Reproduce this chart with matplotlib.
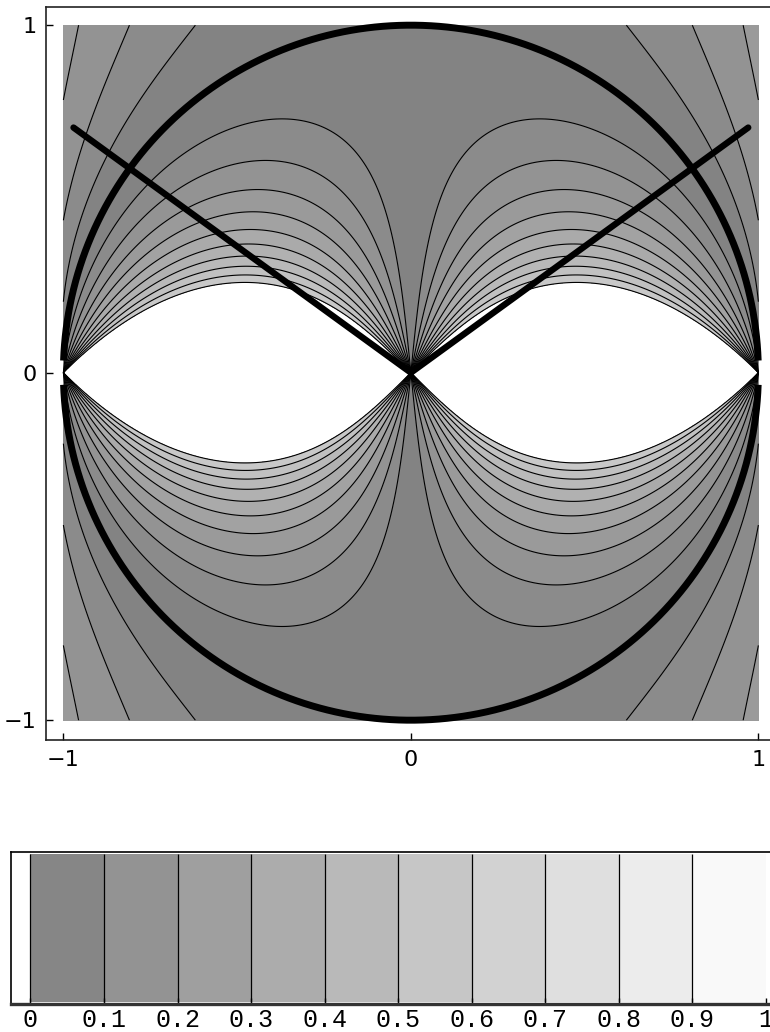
import numpy as np
import matplotlib.pyplot as plt

# contour levels of the field and their tick labels
levels = [0.0, 0.1, 0.2, 0.3, 0.4, 0.5, 0.6, 0.7, 0.8, 0.9, 1.0]
line_levels = [0.1, 0.2, 0.3, 0.4, 0.5, 0.6, 0.7, 0.8, 0.9, 1.0]
axis_ticks = [-1, 0, 1]
cb_labels = ['0', '0.1', '0.2', '0.3', '0.4', '0.5', '0.6', '0.7', '0.8', '0.9', '1']

# cone lines through the origin (degrees from the x axis, length)
cone_angles = [36.0, 144.0]
cone_length = 1.2


def field(x, y):
    # |Re w / Im w| with w = z - 1/z
    r2 = x**2 + y**2
    with np.errstate(divide='ignore', invalid='ignore'):
        return np.abs(x * (r2 - 1)) / (np.abs(y) * (r2 + 1))


mids = [(a + b) / 2 for a, b in zip(levels[:-1], levels[1:])]
plot_grays = [str(0.5 + 0.3 * m) for m in mids]
bar_grays = [str(0.5 + 0.5 * m) for m in mids]

fig = plt.figure(figsize=(7.7, 10.32), dpi=100)
fig.patch.set_facecolor('#ffffff')

# main contour panel
ax = fig.add_axes([46/770, 292/1032, 729.75/770, 732.9/1032])
xs = np.linspace(-1, 1, 1000)
X, Y = np.meshgrid(xs, xs)
F = field(X, Y)

ax.contourf(X, Y, F, levels=levels, colors=plot_grays)
ax.contour(X, Y, F, levels=line_levels, colors='k', linewidths=0.8)

# unit circle, broken where it meets the white lenses
for t0, t1 in [(2, 178), (182, 358)]:
    t = np.radians(np.linspace(t0, t1, 400))
    ax.plot(np.cos(t), np.sin(t), color='k', lw=5, solid_capstyle='butt', zorder=5)

for a in cone_angles:
    ax.plot([0, cone_length * np.cos(np.radians(a))],
            [0, cone_length * np.sin(np.radians(a))],
            color='k', lw=4.6, solid_capstyle='round', zorder=6)

ax.set_xlim(-1.05, 1.05)
ax.set_ylim(-1.057, 1.052)
ax.set_xticks(axis_ticks)
ax.set_yticks(axis_ticks)
ax.tick_params(direction='in', length=5, width=1, labelsize=16, pad=7)
for s in ax.spines.values():
    s.set_linewidth(1.2)
    s.set_color('#222222')

# gray-level legend bar
cax = fig.add_axes([11/770, 28/1032, 774.5/770, 152/1032])
cax.bar(mids, 0.975, width=0.1, bottom=0.01, color=bar_grays, edgecolor='none')
cax.vlines(levels[:-1], 0.01, 0.985, colors='k', lw=0.9)
cax.set_xlim(-0.0265, 1.0265)
cax.set_ylim(0, 1)
cax.set_yticks([])
cax.set_xticks(levels)
cax.set_xticklabels(cb_labels, family='Liberation Mono', fontsize=18)
cax.tick_params(axis='x', direction='in', length=4, width=1, pad=3)
cax.spines['top'].set_linewidth(1.2)
cax.spines['left'].set_linewidth(1.2)
cax.spines['bottom'].set_linewidth(2.4)
cax.spines['bottom'].set_color('#333333')

fig.savefig('out.png', dpi=100)
